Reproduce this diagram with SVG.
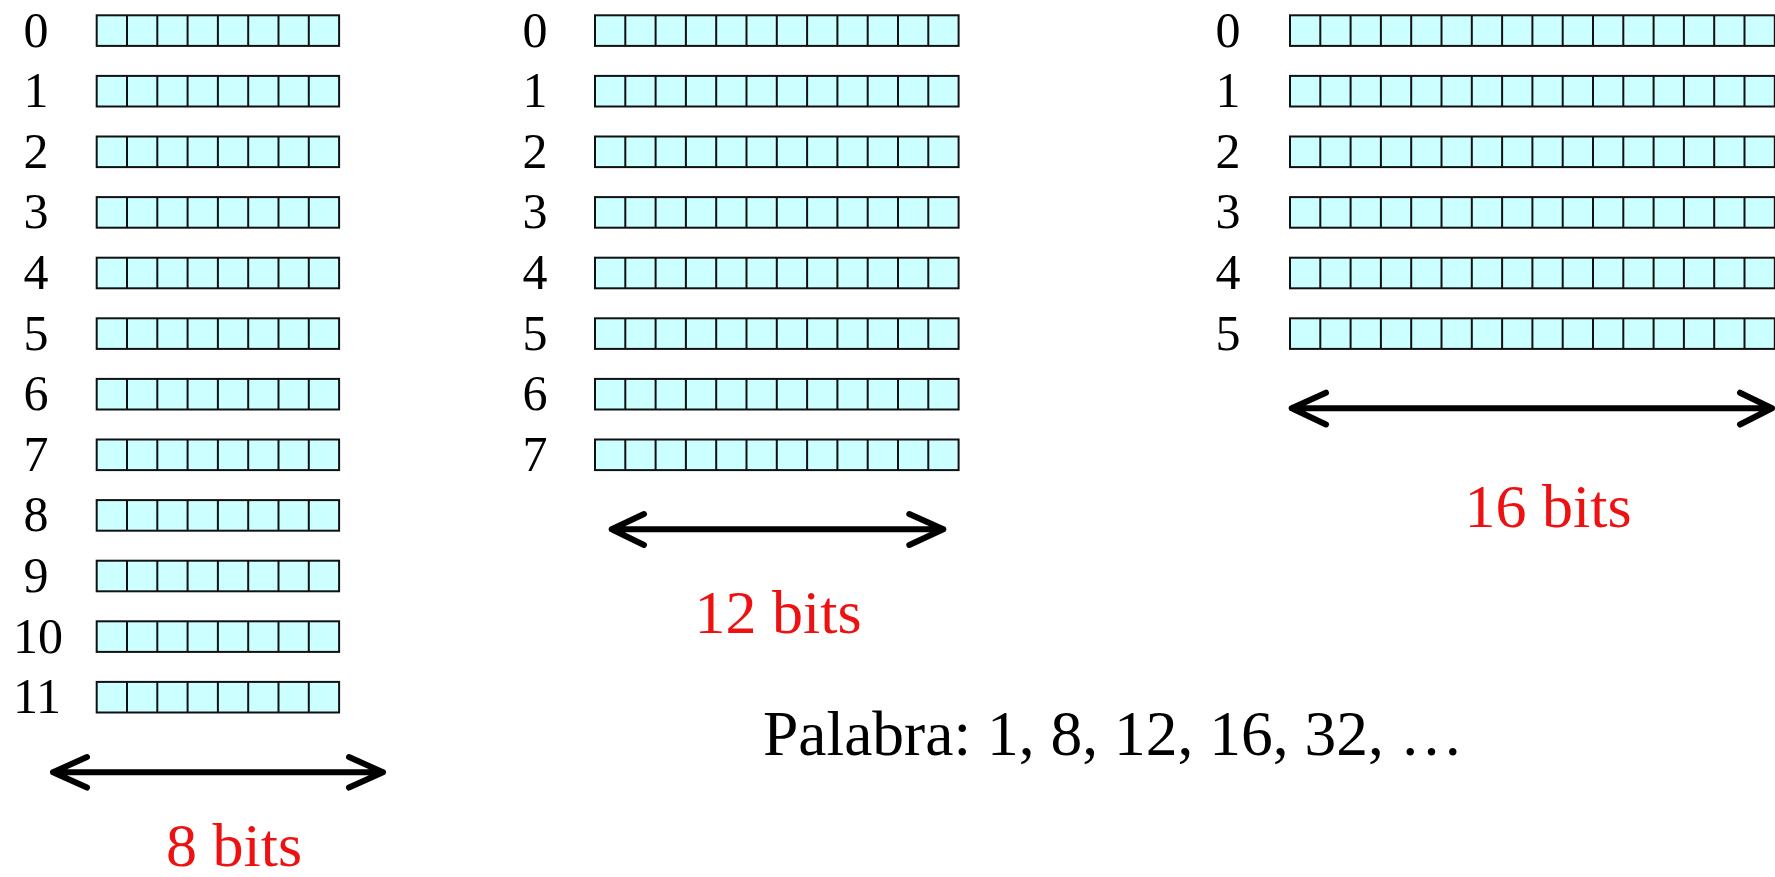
<svg xmlns="http://www.w3.org/2000/svg" xmlns:xlink="http://www.w3.org/1999/xlink" width="1775" height="877" viewBox="0 0 1775 877">
  <style>
    .word { fill: #CCFFFF; stroke: #111; stroke-width: 2; }
    .div { fill: none; stroke: #111; stroke-width: 2; }
    .addr { font-family: "Liberation Serif", "Times New Roman", serif; font-size: 50px; fill: #000; text-anchor: middle; }
    .bits { font-family: "Liberation Serif", "Times New Roman", serif; font-size: 62px; fill: #EE1111; text-anchor: middle; }
    .note { font-family: "Liberation Serif", "Times New Roman", serif; font-size: 63.5px; fill: #000; }
    .dim { fill: none; stroke: #000; stroke-width: 6; stroke-linecap: round; stroke-linejoin: round; }
  </style>
  <defs>
    <!-- memory words: one cell per bit, 30.3 px per cell -->
    <g id="w8">
      <rect class="word" x="0" y="0" width="242.4" height="30.6"/>
      <path class="div" d="M30.3 0V30.6M60.6 0V30.6M90.9 0V30.6M121.2 0V30.6M151.5 0V30.6M181.8 0V30.6M212.1 0V30.6"/>
    </g>
    <g id="w12">
      <rect class="word" x="0" y="0" width="363.6" height="30.6"/>
      <path class="div" d="M30.3 0V30.6M60.6 0V30.6M90.9 0V30.6M121.2 0V30.6M151.5 0V30.6M181.8 0V30.6M212.1 0V30.6M242.4 0V30.6M272.7 0V30.6M303 0V30.6M333.3 0V30.6"/>
    </g>
    <g id="w16">
      <rect class="word" x="0" y="0" width="484.8" height="30.6"/>
      <path class="div" d="M30.3 0V30.6M60.6 0V30.6M90.9 0V30.6M121.2 0V30.6M151.5 0V30.6M181.8 0V30.6M212.1 0V30.6M242.4 0V30.6M272.7 0V30.6M303 0V30.6M333.3 0V30.6M363.6 0V30.6M393.9 0V30.6M424.2 0V30.6M454.5 0V30.6"/>
    </g>
  </defs>

  <!-- memory of 12 words x 8 bits -->
  <g id="mem8">
    <g id="mem8-r0"><text class="addr" x="36" y="46.5">0</text><use xlink:href="#w8" x="96.7" y="15.3"/></g>
    <g id="mem8-r1"><text class="addr" x="36" y="107.1">1</text><use xlink:href="#w8" x="96.7" y="75.9"/></g>
    <g id="mem8-r2"><text class="addr" x="36" y="167.7">2</text><use xlink:href="#w8" x="96.7" y="136.5"/></g>
    <g id="mem8-r3"><text class="addr" x="36" y="228.3">3</text><use xlink:href="#w8" x="96.7" y="197.1"/></g>
    <g id="mem8-r4"><text class="addr" x="36" y="288.9">4</text><use xlink:href="#w8" x="96.7" y="257.7"/></g>
    <g id="mem8-r5"><text class="addr" x="36" y="349.5">5</text><use xlink:href="#w8" x="96.7" y="318.3"/></g>
    <g id="mem8-r6"><text class="addr" x="36" y="410.1">6</text><use xlink:href="#w8" x="96.7" y="378.9"/></g>
    <g id="mem8-r7"><text class="addr" x="36" y="470.7">7</text><use xlink:href="#w8" x="96.7" y="439.5"/></g>
    <g id="mem8-r8"><text class="addr" x="36" y="531.3">8</text><use xlink:href="#w8" x="96.7" y="500.1"/></g>
    <g id="mem8-r9"><text class="addr" x="36" y="591.9">9</text><use xlink:href="#w8" x="96.7" y="560.7"/></g>
    <g id="mem8-r10"><text class="addr" x="38" y="652.5">10</text><use xlink:href="#w8" x="96.7" y="621.3"/></g>
    <g id="mem8-r11"><text class="addr" x="37" y="713.1">11</text><use xlink:href="#w8" x="96.7" y="681.9"/></g>
    <text class="bits" x="234" y="866">8 bits</text>
  </g>

  <!-- memory of 8 words x 12 bits -->
  <g id="mem12">
    <g id="mem12-r0"><text class="addr" x="535" y="46.5">0</text><use xlink:href="#w12" x="595" y="15.3"/></g>
    <g id="mem12-r1"><text class="addr" x="535" y="107.1">1</text><use xlink:href="#w12" x="595" y="75.9"/></g>
    <g id="mem12-r2"><text class="addr" x="535" y="167.7">2</text><use xlink:href="#w12" x="595" y="136.5"/></g>
    <g id="mem12-r3"><text class="addr" x="535" y="228.3">3</text><use xlink:href="#w12" x="595" y="197.1"/></g>
    <g id="mem12-r4"><text class="addr" x="535" y="288.9">4</text><use xlink:href="#w12" x="595" y="257.7"/></g>
    <g id="mem12-r5"><text class="addr" x="535" y="349.5">5</text><use xlink:href="#w12" x="595" y="318.3"/></g>
    <g id="mem12-r6"><text class="addr" x="535" y="410.1">6</text><use xlink:href="#w12" x="595" y="378.9"/></g>
    <g id="mem12-r7"><text class="addr" x="535" y="470.7">7</text><use xlink:href="#w12" x="595" y="439.5"/></g>
    <text class="bits" x="778" y="633">12 bits</text>
  </g>

  <!-- memory of 6 words x 16 bits -->
  <g id="mem16">
    <g id="mem16-r0"><text class="addr" x="1228" y="46.5">0</text><use xlink:href="#w16" x="1290" y="15.3"/></g>
    <g id="mem16-r1"><text class="addr" x="1228" y="107.1">1</text><use xlink:href="#w16" x="1290" y="75.9"/></g>
    <g id="mem16-r2"><text class="addr" x="1228" y="167.7">2</text><use xlink:href="#w16" x="1290" y="136.5"/></g>
    <g id="mem16-r3"><text class="addr" x="1228" y="228.3">3</text><use xlink:href="#w16" x="1290" y="197.1"/></g>
    <g id="mem16-r4"><text class="addr" x="1228" y="288.9">4</text><use xlink:href="#w16" x="1290" y="257.7"/></g>
    <g id="mem16-r5"><text class="addr" x="1228" y="349.5">5</text><use xlink:href="#w16" x="1290" y="318.3"/></g>
    <text class="bits" x="1548" y="527">16 bits</text>
  </g>

  <!-- word-width dimension arrows -->
  <g id="dimensions">
    <path class="dim" d="M53 772.3H383M87 757L53 772.3L87 787.6M349 757L383 772.3L349 787.6"/>
    <path class="dim" d="M611.7 529.3H943.3M644 514L611.7 529.3L644 545M909.3 514L943.3 529.3L909.3 545"/>
    <path class="dim" d="M1291.7 408.3H1772M1326 392.7L1291.7 408.3L1326 424.5M1740 392.7L1772 408.3L1740 424.5"/>
  </g>

  <text id="word-sizes" class="note" x="763" y="755">Palabra: 1, 8, 12, 16, 32, …</text>
</svg>
